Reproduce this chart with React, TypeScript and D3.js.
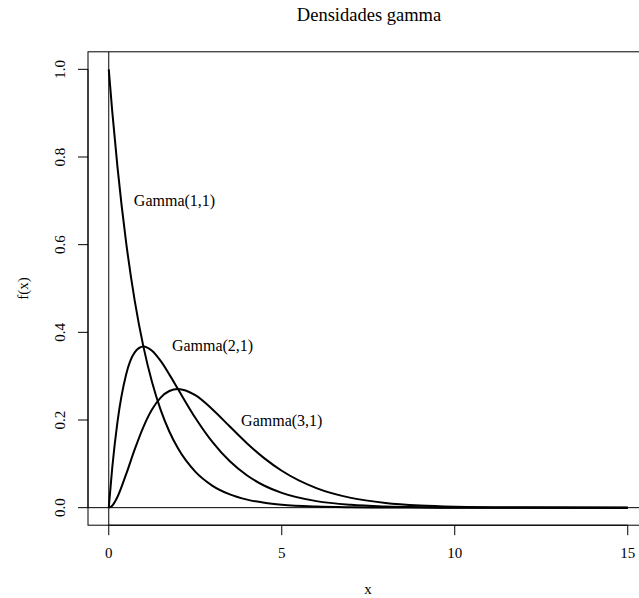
import * as d3 from "d3";

const xs = [0, 0.1, 0.25, 0.5, 0.75, 1, 1.25, 1.5, 1.75, 2, 2.5, 3, 3.5, 4, 4.5, 5, 6, 7, 8, 9, 10, 12, 15];
const gamma11 = [1, 0.9048, 0.7788, 0.6065, 0.4724, 0.3679, 0.2865, 0.2231, 0.1738, 0.1353, 0.0821, 0.0498, 0.0302, 0.0183, 0.0111, 0.0067, 0.0025, 0.0009, 0.0003, 0.0001, 0, 0, 0];
const gamma21 = [0, 0.0905, 0.1947, 0.3033, 0.3543, 0.3679, 0.3581, 0.3347, 0.3041, 0.2707, 0.2052, 0.1494, 0.1057, 0.0733, 0.05, 0.0337, 0.0149, 0.0064, 0.0027, 0.0011, 0.0005, 0.0001, 0];
const gamma31 = [0, 0.0045, 0.0243, 0.0758, 0.1329, 0.1839, 0.2238, 0.251, 0.2661, 0.2707, 0.2565, 0.224, 0.185, 0.1465, 0.1125, 0.0842, 0.0446, 0.0223, 0.0107, 0.005, 0.0023, 0.0004, 0];

const curveLabels = [
  { text: "Gamma(1,1)", x: 1.9, y: 0.7 },
  { text: "Gamma(2,1)", x: 3.0, y: 0.37 },
  { text: "Gamma(3,1)", x: 5.0, y: 0.2 },
];
const xTicks = [0, 5, 10, 15];
const yTicks = [0, 0.2, 0.4, 0.6, 0.8, 1.0];

const W = 639;
const H = 598;

export default function App() {
  // R style axes: data range padded by 4%
  const x = d3.scaleLinear().domain([-0.6, 15.6]).range([88, 648.5]);
  const y = d3.scaleLinear().domain([-0.04, 1.04]).range([525.2, 51.8]);

  const line = d3
    .line<number>()
    .x((d, i) => x(xs[i]))
    .y((d) => y(d))
    .curve(d3.curveMonotoneX);

  const font = "'Liberation Serif', 'Times New Roman', serif";
  const ink = "#000";

  return (
    <svg
      width={W}
      height={H}
      viewBox={`0 0 ${W} ${H}`}
      style={{ position: "absolute", left: 0, top: 0, background: "#fff" }}
      fontFamily={font}
    >
      <rect width={W} height={H} fill="#fff" />

      {/* title */}
      <text x={369} y={21} textAnchor="middle" fontSize={18.5}>
        Densidades gamma
      </text>

      {/* plot box */}
      <rect
        x={x(-0.6)}
        y={y(1.04)}
        width={x(15.6) - x(-0.6)}
        height={y(-0.04) - y(1.04)}
        fill="none"
        stroke={ink}
        strokeWidth={1}
      />

      {/* reference lines at x = 0 and y = 0 */}
      <line x1={x(0)} x2={x(0)} y1={y(1.04)} y2={y(-0.04)} stroke={ink} strokeWidth={1} />
      <line x1={x(-0.6)} x2={x(15.6)} y1={y(0)} y2={y(0)} stroke={ink} strokeWidth={1} />

      {/* x axis */}
      <g>
        <line x1={x(0)} x2={x(15)} y1={y(-0.04)} y2={y(-0.04)} stroke={ink} />
        {xTicks.map((t) => (
          <g key={t}>
            <line x1={x(t)} x2={x(t)} y1={y(-0.04)} y2={y(-0.04) + 10} stroke={ink} />
            <text x={x(t)} y={558} textAnchor="middle" fontSize={15}>
              {t}
            </text>
          </g>
        ))}
        <text x={368} y={594} textAnchor="middle" fontSize={15}>
          x
        </text>
      </g>

      {/* y axis */}
      <g>
        <line x1={x(-0.6)} x2={x(-0.6)} y1={y(0)} y2={y(1)} stroke={ink} />
        {yTicks.map((t) => (
          <g key={t}>
            <line x1={x(-0.6) - 10} x2={x(-0.6)} y1={y(t)} y2={y(t)} stroke={ink} />
            <text
              transform={`translate(65,${y(t)}) rotate(-90)`}
              textAnchor="middle"
              fontSize={15}
            >
              {t.toFixed(1)}
            </text>
          </g>
        ))}
        <text transform={`translate(28,${y(0.5)}) rotate(-90)`} textAnchor="middle" fontSize={15}>
          f(x)
        </text>
      </g>

      {/* densities */}
      {[gamma11, gamma21, gamma31].map((s, i) => (
        <path key={i} d={line(s) ?? ""} fill="none" stroke={ink} strokeWidth={2} />
      ))}

      {curveLabels.map((l) => (
        <text
          key={l.text}
          x={x(l.x)}
          y={y(l.y)}
          textAnchor="middle"
          dominantBaseline="central"
          fontSize={16}
        >
          {l.text}
        </text>
      ))}
    </svg>
  );
}
